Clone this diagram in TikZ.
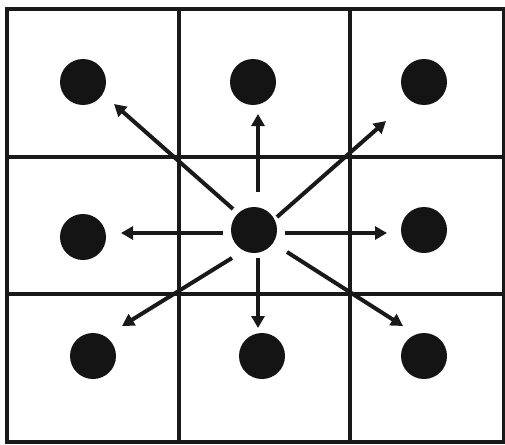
\documentclass[tikz,border=0pt]{standalone}
\usetikzlibrary{arrows.meta}
\begin{document}
\begin{tikzpicture}[x=1pt,y=-1pt,
  gridline/.style={line width=3.4pt,draw=black!90},
  dot/.style={circle,fill=black!92,minimum size=46pt,inner sep=0pt},
  ray/.style={line width=4pt,draw=black!90,-{Triangle[length=12pt,width=13pt]}}]
\useasboundingbox (0,0) rectangle (505,444);
\fill[white] (0,0) rectangle (505,444);
% grid
\draw[gridline] (7,9) rectangle (504,442);
\draw[gridline] (179,9) -- (179,442);
\draw[gridline] (350,9) -- (350,442);
\draw[gridline] (7,157) -- (504,157);
\draw[gridline] (7,294) -- (504,294);
% dots
\node[dot] (tl) at (83,82) {};
\node[dot] (tm) at (253,82) {};
\node[dot] (tr) at (424,82) {};
\node[dot] (ml) at (83,237) {};
\node[dot] (c) at (254,230) {};
\node[dot] (mr) at (424,230) {};
\node[dot] (bl) at (93,356) {};
\node[dot] (bm) at (262,356) {};
\node[dot] (br) at (424,356) {};
% arrow start and end points
\coordinate (su) at (258,192);  \coordinate (eu) at (258,114);
\coordinate (sl) at (223,233);  \coordinate (el) at (121,233);
\coordinate (sr) at (285,233);  \coordinate (er) at (387,233);
\coordinate (sd) at (258,258);  \coordinate (ed) at (258,328);
\coordinate (sul) at (233,209); \coordinate (eul) at (114,104);
\coordinate (sur) at (277,217); \coordinate (eur) at (386,121);
\coordinate (sll) at (232,258); \coordinate (ell) at (122,326);
\coordinate (slr) at (287,252); \coordinate (elr) at (403,326);
\draw[ray] (su) -- (eu);
\draw[ray] (sl) -- (el);
\draw[ray] (sr) -- (er);
\draw[ray] (sd) -- (ed);
\draw[ray] (sul) -- (eul);
\draw[ray] (sur) -- (eur);
\draw[ray] (sll) -- (ell);
\draw[ray] (slr) -- (elr);
\end{tikzpicture}
\end{document}
